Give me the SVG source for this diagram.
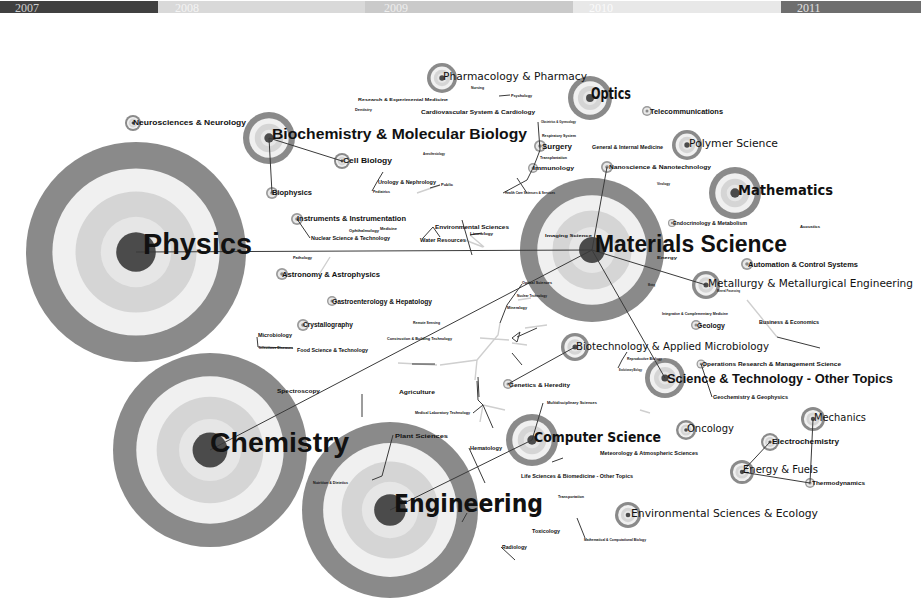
<svg xmlns="http://www.w3.org/2000/svg" xmlns:xlink="http://www.w3.org/1999/xlink" width="921" height="600" viewBox="0 0 921 600">
<style>
text{font-family:"Liberation Sans",Arial,sans-serif;fill:#111;font-weight:bold}
.dv{font-family:"DejaVu Sans","Liberation Sans",sans-serif}
.dn{font-family:"DejaVu Sans","Liberation Sans",sans-serif;font-weight:normal}
.yr{font-family:"Liberation Serif","Times New Roman",serif;font-weight:normal;font-size:12px}
.c{stroke:#3a3a3a;stroke-width:1;fill:none}
.cl{stroke:#cfcfcf;stroke-width:1.4;fill:none}
</style>
<defs>
<g id="ring">
<circle r="100" fill="#8a8a8a"/>
<circle r="76" fill="#f0f0f0"/>
<circle r="55" fill="#d5d5d5"/>
<circle r="32" fill="#e6e6e6"/>
<circle r="18" fill="#4b4b4b"/>
</g>
<g id="sring">
<circle r="100" fill="#9a9a9a"/>
<circle r="72" fill="#e8e8e8"/>
<circle r="30" fill="#8a8a8a"/>
</g>
</defs>
<rect width="921" height="600" fill="#ffffff"/>
<g id="timeline">
<rect x="0" y="1" width="158" height="12" fill="#404040"/>
<rect x="158" y="1" width="207" height="12" fill="#d9d9d9"/>
<rect x="365" y="1" width="208" height="12" fill="#cacaca"/>
<rect x="573" y="1" width="208" height="12" fill="#e8e8e8"/>
<rect x="781" y="1" width="140" height="12" fill="#6e6e6e"/>
<text class="yr" x="15" y="12" style="fill:#d0d0d0">2007</text>
<text class="yr" x="175" y="12" style="fill:#f4f4f4">2008</text>
<text class="yr" x="384" y="12" style="fill:#eeeeee">2009</text>
<text class="yr" x="589" y="12" style="fill:#fbfbfb">2010</text>
<text class="yr" x="797" y="12" style="fill:#e2e2e2">2011</text>
</g>
<g id="n-physics"><use xlink:href="#ring" transform="translate(136,252) scale(1.1)"/></g>
<g id="n-chemistry"><use xlink:href="#ring" transform="translate(210,450) scale(0.97)"/></g>
<g id="n-engineering"><use xlink:href="#ring" transform="translate(390,510) scale(0.88)"/></g>
<g id="n-materials"><use xlink:href="#ring" transform="translate(592,250) scale(0.72)"/></g>
<g id="n-biochem"><use xlink:href="#ring" transform="translate(269,138) scale(0.26)"/></g>
<g id="n-math"><use xlink:href="#ring" transform="translate(735,193) scale(0.26)"/></g>
<g id="n-optics"><use xlink:href="#ring" transform="translate(590,98) scale(0.22)"/></g>
<g id="n-cs"><use xlink:href="#ring" transform="translate(532,440) scale(0.26)"/></g>
<g id="n-scitech"><use xlink:href="#ring" transform="translate(665,378) scale(0.2)"/></g>
<g id="n-pharma"><use xlink:href="#ring" transform="translate(442,78) scale(0.15)"/></g>
<g id="n-polymer"><use xlink:href="#ring" transform="translate(687,145) scale(0.15)"/></g>
<g id="n-biotech"><use xlink:href="#ring" transform="translate(575,347) scale(0.14)"/></g>
<g id="n-metallurgy"><use xlink:href="#ring" transform="translate(706,285) scale(0.14)"/></g>
<g id="n-mechanics"><use xlink:href="#ring" transform="translate(813,419) scale(0.12)"/></g>
<g id="n-energy"><use xlink:href="#ring" transform="translate(742,472) scale(0.12)"/></g>
<g id="n-envsci"><use xlink:href="#ring" transform="translate(628,515) scale(0.13)"/></g>
<g id="n-oncology"><use xlink:href="#ring" transform="translate(686,430) scale(0.1)"/></g>
<g id="n-electrochem"><use xlink:href="#ring" transform="translate(770,442) scale(0.09)"/></g>
<g id="n-thermo"><use xlink:href="#sring" transform="translate(810,483) scale(0.05)"/></g>
<g id="n-neuro"><use xlink:href="#ring" transform="translate(133,123) scale(0.08)"/></g>
<g id="n-cellbio"><use xlink:href="#ring" transform="translate(342,161) scale(0.08)"/></g>
<g id="n-biophys"><use xlink:href="#sring" transform="translate(272,193) scale(0.06)"/></g>
<g id="n-instr"><use xlink:href="#sring" transform="translate(297,219) scale(0.06)"/></g>
<g id="n-astro"><use xlink:href="#sring" transform="translate(282,274) scale(0.06)"/></g>
<g id="n-gastro"><use xlink:href="#sring" transform="translate(332,301) scale(0.05)"/></g>
<g id="n-cryst"><use xlink:href="#sring" transform="translate(303,325) scale(0.06)"/></g>
<g id="n-automation"><use xlink:href="#sring" transform="translate(747,264) scale(0.06)"/></g>
<g id="n-geology"><use xlink:href="#sring" transform="translate(696,325) scale(0.05)"/></g>
<g id="n-opres"><use xlink:href="#sring" transform="translate(701,364) scale(0.045)"/></g>
<g id="n-genetics"><use xlink:href="#sring" transform="translate(508,384) scale(0.05)"/></g>
<g id="n-telecom"><use xlink:href="#sring" transform="translate(647,111) scale(0.05)"/></g>
<g id="n-surgery"><use xlink:href="#sring" transform="translate(540,146) scale(0.06)"/></g>
<g id="n-immuno"><use xlink:href="#sring" transform="translate(533,168) scale(0.05)"/></g>
<g id="n-nano"><use xlink:href="#sring" transform="translate(607,167) scale(0.06)"/></g>
<g id="n-endo"><use xlink:href="#sring" transform="translate(672,223) scale(0.04)"/></g>

<g id="connectors">
<path class="cl" d="M320,273 L330,257 M465,240 L483,247 M500,323 L498,335 L477,360 L440,365 M477,360 L475,380 M512,343 L527,345 M525,328 L547,325 M398,363 L437,365 M483,405 L505,410 M483,405 L480,422 M640,410 L650,413 M747,300 L777,337 M417,193 L440,185 M470,235 L484,247 M518,300 L531,298 M509,340 L480,338"/>
<path class="c" d="M136,252 L592,250"/>
<path class="c" d="M210,450 L592,250"/>
<path class="c" d="M390,510 L532,440"/>
<path class="c" d="M592,250 L706,285"/>
<path class="c" d="M592,250 L665,378"/>
<path class="c" d="M592,250 L607,167"/>
<path class="c" d="M269,138 L342,161"/>
<path class="c" d="M269,138 L272,193"/>
<path class="c" d="M575,347 L508,384"/>
<path class="c" d="M742,472 L770,442"/>
<path class="c" d="M742,472 L810,483"/>
<path class="c" d="M810,483 L813,419"/>
<path class="c" d="M532,440 L543,403"/>
<path class="c" d="M393,435 L382,476 L372,480"/>
<path class="c" d="M469,448 L485,483"/>
<path class="c" d="M701,364 L712,397"/>
<path class="c" d="M297,219 L310,238"/>
<path class="c" d="M257,337 L258,347 L293,348"/>
<path class="c" d="M501,547 L515,560"/>
<path class="c" d="M577,518 L585,538"/>
<path class="c" d="M538,122 L540,150 L537,158 L533,168 L527,180 L503,193 M517,178 L527,193"/>
<path class="c" d="M372,191 L377,182 L383,172"/>
<path class="c" d="M430,188 L440,185"/>
<path class="c" d="M433,227 L423,238 M433,227 L440,237 M462,220 L472,255 M470,235 L482,233"/>
<path class="c" d="M522,284 L507,305 L500,323 M512,338 L520,332 L517,342 Z M517,337 L537,328 M512,353 L522,365 M478,377 L479,397"/>
<path class="c" d="M477,381 L478,400 L483,405 L493,428 M473,413 L483,405"/>
<path class="c" d="M362,394 L362,417"/>
<path class="c" d="M777,337 L820,348"/>
<path class="c" d="M552,462 L563,458 M462,522 L467,513"/>
<path class="c" d="M499,96 L510,95"/>
<path class="c" d="M627,352 L622,360 L618,368"/>
<path class="c" d="M412,364 L435,364"/>
</g>

<g id="labels">
<text x="143" y="254" font-size="29" textLength="109" lengthAdjust="spacingAndGlyphs">Physics</text>
<text x="210" y="452" font-size="28" textLength="139" lengthAdjust="spacingAndGlyphs">Chemistry</text>
<text class="dv" x="394" y="512" font-size="24" textLength="149" lengthAdjust="spacingAndGlyphs">Engineering</text>
<text x="595" y="252" font-size="23" textLength="192" lengthAdjust="spacingAndGlyphs">Materials Science</text>
<text x="272" y="139" font-size="15.5" textLength="255" lengthAdjust="spacingAndGlyphs">Biochemistry &amp; Molecular Biology</text>
<text class="dv" x="738" y="195" font-size="14" textLength="95" lengthAdjust="spacingAndGlyphs">Mathematics</text>
<text class="dv" x="591" y="99" font-size="15" textLength="40" lengthAdjust="spacingAndGlyphs">Optics</text>
<text class="dv" x="534" y="442" font-size="14" textLength="127" lengthAdjust="spacingAndGlyphs">Computer Science</text>
<text x="667" y="383" font-size="13.5" textLength="226" lengthAdjust="spacingAndGlyphs">Science &amp; Technology - Other Topics</text>
<text class="dn" x="443" y="80" font-size="11" textLength="144" lengthAdjust="spacingAndGlyphs">Pharmacology &amp; Pharmacy</text>
<text class="dn" x="689" y="147" font-size="11" textLength="89" lengthAdjust="spacingAndGlyphs">Polymer Science</text>
<text class="dn" x="576" y="350" font-size="11" textLength="193" lengthAdjust="spacingAndGlyphs">Biotechnology &amp; Applied Microbiology</text>
<text class="dn" x="708" y="287" font-size="11" textLength="205" lengthAdjust="spacingAndGlyphs">Metallurgy &amp; Metallurgical Engineering</text>
<text class="dn" x="814" y="421" font-size="10" textLength="52" lengthAdjust="spacingAndGlyphs">Mechanics</text>
<text class="dn" x="743" y="473" font-size="11" textLength="75" lengthAdjust="spacingAndGlyphs">Energy &amp; Fuels</text>
<text class="dn" x="631" y="517" font-size="11" textLength="187" lengthAdjust="spacingAndGlyphs">Environmental Sciences &amp; Ecology</text>
<text class="dn" x="687" y="432" font-size="10" textLength="47" lengthAdjust="spacingAndGlyphs">Oncology</text>
<text x="772" y="444" font-size="8" textLength="67" lengthAdjust="spacingAndGlyphs">Electrochemistry</text>
<text x="812" y="485" font-size="6" textLength="53" lengthAdjust="spacingAndGlyphs">Thermodynamics</text>
<text x="133" y="125" font-size="8" textLength="113" lengthAdjust="spacingAndGlyphs">Neurosciences &amp; Neurology</text>
<text x="343" y="163" font-size="8" textLength="49" lengthAdjust="spacingAndGlyphs">Cell Biology</text>
<text x="272" y="195" font-size="7" textLength="40" lengthAdjust="spacingAndGlyphs">Biophysics</text>
<text x="297" y="221" font-size="7" textLength="109" lengthAdjust="spacingAndGlyphs">Instruments &amp; Instrumentation</text>
<text x="311" y="240" font-size="6" textLength="79" lengthAdjust="spacingAndGlyphs">Nuclear Science &amp; Technology</text>
<text x="282" y="277" font-size="7" textLength="98" lengthAdjust="spacingAndGlyphs">Astronomy &amp; Astrophysics</text>
<text x="332" y="304" font-size="7" textLength="100" lengthAdjust="spacingAndGlyphs">Gastroenterology &amp; Hepatology</text>
<text x="303" y="327" font-size="7" textLength="50" lengthAdjust="spacingAndGlyphs">Crystallography</text>
<text x="258" y="337" font-size="6" textLength="34" lengthAdjust="spacingAndGlyphs">Microbiology</text>
<text x="297" y="352" font-size="6" textLength="71" lengthAdjust="spacingAndGlyphs">Food Science &amp; Technology</text>
<text x="748" y="267" font-size="7" textLength="110" lengthAdjust="spacingAndGlyphs">Automation &amp; Control Systems</text>
<text x="697" y="328" font-size="7" textLength="28" lengthAdjust="spacingAndGlyphs">Geology</text>
<text x="759" y="324" font-size="6" textLength="60" lengthAdjust="spacingAndGlyphs">Business &amp; Economics</text>
<text x="702" y="366" font-size="6" textLength="139" lengthAdjust="spacingAndGlyphs">Operations Research &amp; Management Science</text>
<text x="713" y="399" font-size="5" textLength="75" lengthAdjust="spacingAndGlyphs">Geochemistry &amp; Geophysics</text>
<text x="509" y="387" font-size="6" textLength="61" lengthAdjust="spacingAndGlyphs">Genetics &amp; Heredity</text>
<text x="650" y="114" font-size="7" textLength="73" lengthAdjust="spacingAndGlyphs">Telecommunications</text>
<text x="421" y="114" font-size="6" textLength="114" lengthAdjust="spacingAndGlyphs">Cardiovascular System &amp; Cardiology</text>
<text x="542" y="149" font-size="8" textLength="30" lengthAdjust="spacingAndGlyphs">Surgery</text>
<text x="533" y="170" font-size="6" textLength="41" lengthAdjust="spacingAndGlyphs">Immunology</text>
<text x="592" y="149" font-size="5" textLength="71" lengthAdjust="spacingAndGlyphs">General &amp; Internal Medicine</text>
<text x="609" y="169" font-size="6" textLength="102" lengthAdjust="spacingAndGlyphs">Nanoscience &amp; Nanotechnology</text>
<text x="673" y="225" font-size="5" textLength="74" lengthAdjust="spacingAndGlyphs">Endocrinology &amp; Metabolism</text>
<text x="277" y="393" font-size="5" textLength="43" lengthAdjust="spacingAndGlyphs">Spectroscopy</text>
<text x="399" y="394" font-size="5" textLength="36" lengthAdjust="spacingAndGlyphs">Agriculture</text>
<text x="395" y="438" font-size="6" textLength="53" lengthAdjust="spacingAndGlyphs">Plant Sciences</text>
<text x="470" y="450" font-size="5" textLength="32" lengthAdjust="spacingAndGlyphs">Hematology</text>
<text x="600" y="455" font-size="5" textLength="98" lengthAdjust="spacingAndGlyphs">Meteorology &amp; Atmospheric Sciences</text>
<text x="521" y="478" font-size="5" textLength="112" lengthAdjust="spacingAndGlyphs">Life Sciences &amp; Biomedicine - Other Topics</text>
<text x="532" y="533" font-size="5" textLength="28" lengthAdjust="spacingAndGlyphs">Toxicology</text>
<text x="502" y="549" font-size="5" textLength="25" lengthAdjust="spacingAndGlyphs">Radiology</text>
<text x="511" y="97" font-size="4" textLength="21" lengthAdjust="spacingAndGlyphs">Psychology</text>
<text x="358" y="101" font-size="4" textLength="90" lengthAdjust="spacingAndGlyphs">Research &amp; Experimental Medicine</text>
<text x="355" y="111" font-size="4" textLength="17" lengthAdjust="spacingAndGlyphs">Dentistry</text>
<text x="435" y="229" font-size="6" textLength="74" lengthAdjust="spacingAndGlyphs">Environmental Sciences</text>
<text x="420" y="242" font-size="5" textLength="46" lengthAdjust="spacingAndGlyphs">Water Resources</text>
<text x="378" y="184" font-size="5" textLength="58" lengthAdjust="spacingAndGlyphs">Urology &amp; Nephrology</text>
<text x="373" y="193" font-size="3.5" textLength="17" lengthAdjust="spacingAndGlyphs">Pediatrics</text>
<text x="441" y="186" font-size="4" textLength="12" lengthAdjust="spacingAndGlyphs">Public</text>
<text x="293" y="259" font-size="3.5" textLength="19" lengthAdjust="spacingAndGlyphs">Pathology</text>
<text x="415" y="414" font-size="3.5" textLength="55" lengthAdjust="spacingAndGlyphs">Medical Laboratory Technology</text>
<text x="387" y="340" font-size="3.5" textLength="65" lengthAdjust="spacingAndGlyphs">Construction &amp; Building Technology</text>
<text x="547" y="404" font-size="3.5" textLength="50" lengthAdjust="spacingAndGlyphs">Multidisciplinary Sciences</text>
<text x="471" y="89" font-size="3" textLength="13" lengthAdjust="spacingAndGlyphs">Nursing</text>
<text x="541" y="123" font-size="3" textLength="35" lengthAdjust="spacingAndGlyphs">Obstetrics &amp; Gynecology</text>
<text x="542" y="137" font-size="3" textLength="34" lengthAdjust="spacingAndGlyphs">Respiratory System</text>
<text x="540" y="159" font-size="3" textLength="27" lengthAdjust="spacingAndGlyphs">Transplantation</text>
<text x="505" y="194" font-size="3" textLength="50" lengthAdjust="spacingAndGlyphs">Health Care Sciences &amp; Services</text>
<text x="423" y="155" font-size="3" textLength="22" lengthAdjust="spacingAndGlyphs">Anesthesiology</text>
<text x="657" y="185" font-size="3" textLength="13" lengthAdjust="spacingAndGlyphs">Virology</text>
<text x="800" y="228" font-size="3" textLength="20" lengthAdjust="spacingAndGlyphs">Acoustics</text>
<text x="349" y="232" font-size="3" textLength="30" lengthAdjust="spacingAndGlyphs">Ophthalmology</text>
<text x="380" y="230" font-size="3" textLength="17" lengthAdjust="spacingAndGlyphs">Medicine</text>
<text x="470" y="235" font-size="3" textLength="23" lengthAdjust="spacingAndGlyphs">Limnology</text>
<text x="545" y="237" font-size="3" textLength="47" lengthAdjust="spacingAndGlyphs">Imaging Science</text>
<text x="657" y="259" font-size="3" textLength="20" lengthAdjust="spacingAndGlyphs">Energy</text>
<text x="648" y="286" font-size="3" textLength="7" lengthAdjust="spacingAndGlyphs">Mining</text>
<text x="717" y="292" font-size="3" textLength="23" lengthAdjust="spacingAndGlyphs">Mineral Processing</text>
<text x="662" y="315" font-size="3" textLength="66" lengthAdjust="spacingAndGlyphs">Integrative &amp; Complementary Medicine</text>
<text x="522" y="284" font-size="3.5" textLength="30" lengthAdjust="spacingAndGlyphs">Optical Sciences</text>
<text x="517" y="297" font-size="3" textLength="30" lengthAdjust="spacingAndGlyphs">Nuclear Technology</text>
<text x="507" y="309" font-size="3" textLength="20" lengthAdjust="spacingAndGlyphs">Mineralogy</text>
<text x="413" y="324" font-size="3" textLength="27" lengthAdjust="spacingAndGlyphs">Remote Sensing</text>
<text x="259" y="349" font-size="3" textLength="34" lengthAdjust="spacingAndGlyphs">Infectious Diseases</text>
<text x="313" y="484" font-size="3" textLength="35" lengthAdjust="spacingAndGlyphs">Nutrition &amp; Dietetics</text>
<text x="558" y="498" font-size="3" textLength="26" lengthAdjust="spacingAndGlyphs">Transportation</text>
<text x="584" y="541" font-size="3" textLength="62" lengthAdjust="spacingAndGlyphs">Mathematical &amp; Computational Biology</text>
<text x="627" y="360" font-size="3" textLength="35" lengthAdjust="spacingAndGlyphs">Reproductive Biology</text>
<text x="619" y="371" font-size="3" textLength="23" lengthAdjust="spacingAndGlyphs">Evolutionary Biology</text>
</g>
</svg>
